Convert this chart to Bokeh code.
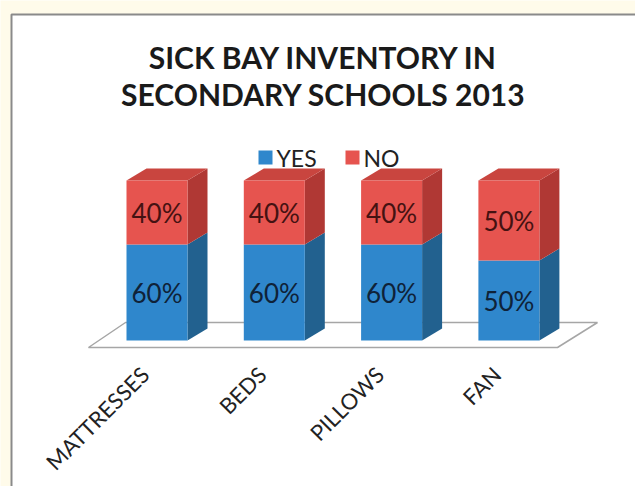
import math
from bokeh.plotting import figure
from bokeh.models import Range1d
from bokeh.core.properties import value
from bokeh.embed import file_html
from bokeh.resources import INLINE

# ---- data ----
categories = ["MATTRESSES", "BEDS", "PILLOWS", "FAN"]
yes_pct = [60, 60, 60, 50]
no_pct = [40, 40, 40, 50]
series_names = ["YES", "NO"]
title_lines = ["SICK BAY INVENTORY IN", "SECONDARY SCHOOLS 2013"]

# ---- layout helpers (pixel -> data) ----
W, H = 635, 486
X0, XS = 156.5, 117.3   # pixel x of category 0, pixels per category
Y0, YS = 340.0, 1.6     # pixel y of 0 %, pixels per percent


def X(px):
    return (px - X0) / XS


def Y(py):
    return (Y0 - py) / YS


FONT = value("Lato")
BLUE, BLUE_SIDE = "#2f87cc", "#22618f"
RED, RED_TOP, RED_SIDE = "#e6544f", "#c9453f", "#b03834"

p = figure(width=W, height=H, x_range=Range1d(X(0), X(W)), y_range=Range1d(Y(H), Y(0)),
           x_axis_type=None, y_axis_type=None, toolbar_location=None,
           output_backend="svg", min_border=0)
p.grid.visible = False
p.outline_line_color = None
p.background_fill_color = "#fffbea"
p.border_fill_color = "#fffbea"

# chart frame
p.quad(left=X(11), right=X(W + 10), bottom=Y(H + 10), top=Y(14),
       fill_color="white", line_color="#8a8a8a", line_width=2)

# title
for k, line in enumerate(title_lines):
    p.text(x=[X(323)], y=[Y(56 + 37 * k)], text=[line], text_font=FONT,
           text_font_style="bold", text_font_size="30px", text_color="#1a1a1a",
           text_align="center", text_baseline="middle")

# legend
for k, (name, col) in enumerate(zip(series_names, [BLUE, RED])):
    sx = 258 + 87 * k
    p.quad(left=X(sx), right=X(sx + 14), bottom=Y(164), top=Y(150),
           fill_color=col, line_color=None)
    p.text(x=[X(sx + 18)], y=[Y(157)], text=[name], text_font=FONT,
           text_font_size="23px", text_color="#222222",
           text_align="left", text_baseline="middle")

# floor (3D plane)
fx = [X(88), X(557), X(597), X(125)]
fy = [Y(347), Y(347), Y(322), Y(322)]
p.patch(fx, fy, fill_color="white", line_color="#a6a6a6", line_width=1.5)

# 3D bars
hw = 30.5 / XS          # half width of front face (data)
dx = 20 / XS            # depth offset x
dy = 12 / YS            # depth offset y
xs = list(range(len(categories)))
tot = [a + b for a, b in zip(yes_pct, no_pct)]

side_xs, side_ys, side_c = [], [], []
top_xs, top_ys = [], []
for i, (yv, tv) in enumerate(zip(yes_pct, tot)):
    r = i + hw
    side_xs += [[r, r + dx, r + dx, r], [r, r + dx, r + dx, r]]
    side_ys += [[0, dy, yv + dy, yv], [yv, yv + dy, tv + dy, tv]]
    side_c += [BLUE_SIDE, RED_SIDE]
    top_xs.append([i - hw, i + hw, i + hw + dx, i - hw + dx])
    top_ys.append([tv, tv, tv + dy, tv + dy])

p.patches(side_xs, side_ys, fill_color=side_c, line_color=None)
p.patches(top_xs, top_ys, fill_color=RED_TOP, line_color=None)
p.vbar(x=xs, width=2 * hw, bottom=0, top=yes_pct, fill_color=BLUE, line_color=None)
p.vbar(x=xs, width=2 * hw, bottom=yes_pct, top=tot, fill_color=RED, line_color=None)

# value labels
p.text(x=xs, y=[v / 2 for v in yes_pct], text=[f"{v}%" for v in yes_pct],
       text_font=FONT, text_font_size="26px", text_color="#0f2238",
       text_align="center", text_baseline="middle")
p.text(x=xs, y=[a + b / 2 for a, b in zip(yes_pct, no_pct)], text=[f"{v}%" for v in no_pct],
       text_font=FONT, text_font_size="26px", text_color="#441212",
       text_align="center", text_baseline="middle")

# category labels (rotated)
p.text(x=[i - 12 / XS for i in xs], y=[Y(370)] * len(xs), text=categories,
       angle=math.pi / 4, text_font=FONT, text_font_size="22px", text_color="#222222",
       text_align="right", text_baseline="middle")

open("out.html", "w").write(file_html(p, INLINE))
